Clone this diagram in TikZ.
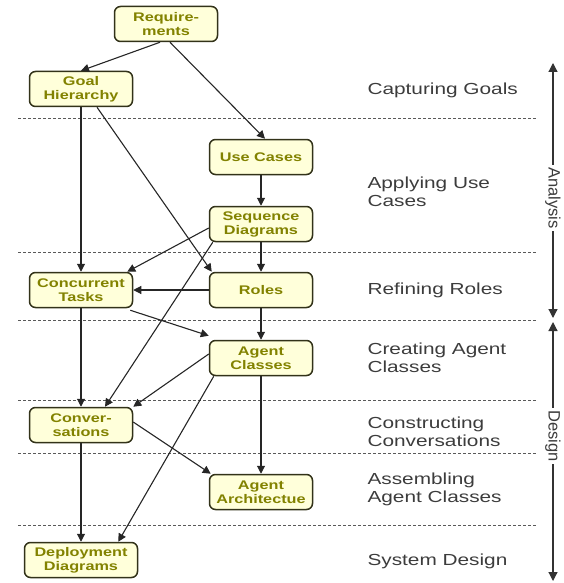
\documentclass[tikz,border=0pt]{standalone}
\usepackage{fontspec}
\setmainfont{Liberation Sans}
\newfontfamily\boxfont[FakeStretch=1.3]{Liberation Sans}
\definecolor{boxfill}{RGB}{255, 255, 218}
\definecolor{boxline}{RGB}{50, 50, 25}
\definecolor{boxtext}{RGB}{130, 130, 0}
\definecolor{phasegray}{RGB}{60, 60, 60}
\usetikzlibrary{arrows.meta, positioning, calc}

\begin{document}
\begin{tikzpicture}[x=1pt, y=-1pt,
  box/.style={draw=boxline, fill=boxfill, line width=1.5pt, rounded corners=6pt, minimum width=103pt, minimum height=35pt, align=center, inner sep=2pt, text=boxtext, font=\boxfont\bfseries\fontsize{12.5}{14}\selectfont},
  phase/.style={anchor=west, align=left, text=phasegray, font=\boxfont\fontsize{16}{18}\selectfont},
  flow/.style={-{Triangle[length=8pt, width=8pt]}, line width=1.1pt, draw=black!85},
  span/.style={{Triangle[length=9pt, width=9pt]}-{Triangle[length=9pt, width=9pt]}, line width=1.2pt, draw=black!80},
  spanname/.style={fill=white, rotate=-90, inner sep=2pt, text=phasegray, font=\fontsize{16.5}{16.5}\selectfont},
  sep/.style={dashed, dash pattern=on 3pt off 2pt, line width=0.9pt, draw=black!65}
]
  \useasboundingbox (0,0) rectangle (563,583);

  % Phase separators
  \foreach \y in {118, 252, 320, 400, 453, 525}
    \draw[sep] (18,\y) -- (537,\y);

  % Models
  \node[box] (req) at (166, 24) {Require-\\ments};
  \node[box] (goal) at (81, 89) {Goal\\Hierarchy};
  \node[box] (use) at (261, 157) {Use Cases};
  \node[box] (seq) at (261, 224) {Sequence\\Diagrams};
  \node[box] (ct) at (81, 290) {Concurrent\\Tasks};
  \node[box] (roles) at (261, 290) {Roles};
  \node[box] (ac) at (261, 358) {Agent\\Classes};
  \node[box] (conv) at (81, 425) {Conver-\\sations};
  \node[box] (aa) at (261, 492) {Agent\\Architectue};
  \node[box, minimum width=113pt] (dd) at (81, 560) {Deployment\\Diagrams};

  % Connections
  \draw[flow] ([xshift=-6pt]req.south) -- (goal.north);
  \draw[flow] ([xshift=4pt]req.south) -- ([xshift=4pt]use.north);
  \draw[flow] (goal.south) -- (ct.north);
  \draw[flow] ([xshift=16pt]goal.south) -- ([xshift=3pt]roles.north west);
  \draw[flow] (use) -- (seq);
  \draw[flow] ([yshift=-4pt]seq.west) -- ([xshift=-6pt]ct.north east);
  \draw[flow] ([xshift=4pt]seq.south west) -- ([xshift=24pt]conv.north);
  \draw[flow] (seq) -- (roles);
  \draw[flow] (roles) -- (ct);
  \draw[flow] (roles) -- (ac);
  \draw[flow] ([xshift=-3pt, yshift=-2pt]ct.south east) -- ([yshift=4pt]ac.north west);
  \draw[flow] (ct) -- (conv);
  \draw[flow] ([yshift=4pt]ac.west) -- (conv.north east);
  \draw[flow] ([xshift=5pt]ac.south west) -- ([xshift=-20pt]dd.north east);
  \draw[flow] (ac) -- (aa);
  \draw[flow] ([yshift=3pt]conv.east) -- ([xshift=2pt]aa.north west);
  \draw[flow] (conv) -- (dd);

  % Phase names
  \node[phase] (p1) at (364, 90) {Capturing Goals};
  \node[phase] (p2) at (364, 192) {Applying Use\\Cases};
  \node[phase] (p3) at (364, 290) {Refining Roles};
  \node[phase] (p4) at (364, 358) {Creating Agent\\Classes};
  \node[phase] (p5) at (364, 432) {Constructing\\Conversations};
  \node[phase] (p6) at (364, 489) {Assembling\\Agent Classes};
  \node[phase] (p7) at (364, 561) {System Design};

  % Analysis / Design spans
  \coordinate (anaTop) at (553, 63);
  \coordinate (anaBot) at (553, 318);
  \coordinate (desTop) at (553, 322);
  \coordinate (desBot) at (553, 581);
  \draw[span] (anaTop) -- (anaBot) node[spanname, pos=0.53] (ana) {Analysis};
  \draw[span] (desTop) -- (desBot) node[spanname, pos=0.44] (des) {Design};
\end{tikzpicture}
\end{document}
